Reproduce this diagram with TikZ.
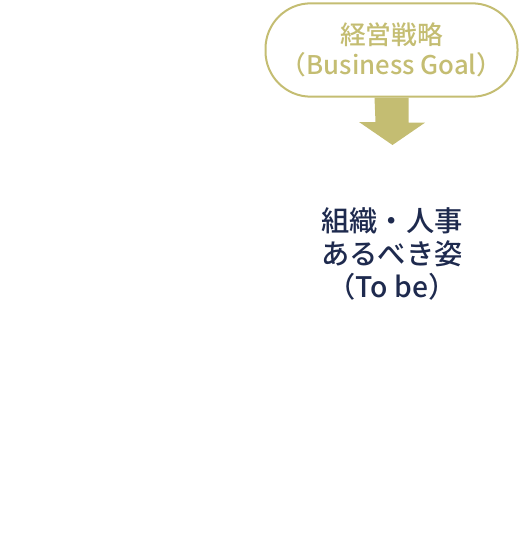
\documentclass[tikz,border=0pt]{standalone}
\usepackage{fontspec}
\setmainfont{Noto Sans CJK JP}[UprightFont=* Medium]
\usetikzlibrary{positioning}
\definecolor{goalolive}{HTML}{C4BD72}
\definecolor{tobenavy}{HTML}{1E2A4E}
\begin{document}
\begin{tikzpicture}[x=0.75pt,y=-0.75pt,
    goalbox/.style={draw=goalolive,line width=1.5pt,rounded corners=34pt,
                    minimum width=189pt,minimum height=70pt,align=center,
                    text=goalolive,font=\fontsize{19.3pt}{22.5pt}\selectfont},
    tobetext/.style={align=center,text=tobenavy,
                     font=\fontsize{21.2pt}{25pt}\selectfont},
  ]
    \useasboundingbox (0,0) rectangle (520,542);
    \node[goalbox] (goal) at (391.5,50) {経営戦略\\（Business Goal）};
    \node[tobetext] (tobe) at (392,254) {組織・人事\\あるべき姿\\（To be）};
    \coordinate (tip) at (392.5,145);
    \fill[goalolive] ([xshift=-12.75pt]goal.south) -- ([xshift=12.75pt]goal.south)
      -- ++(0,25) -- ++(16.5,0) -- (tip) -- ++(-33.5,-23) -- ++(16.5,0) -- cycle;
  \end{tikzpicture}
\end{document}
